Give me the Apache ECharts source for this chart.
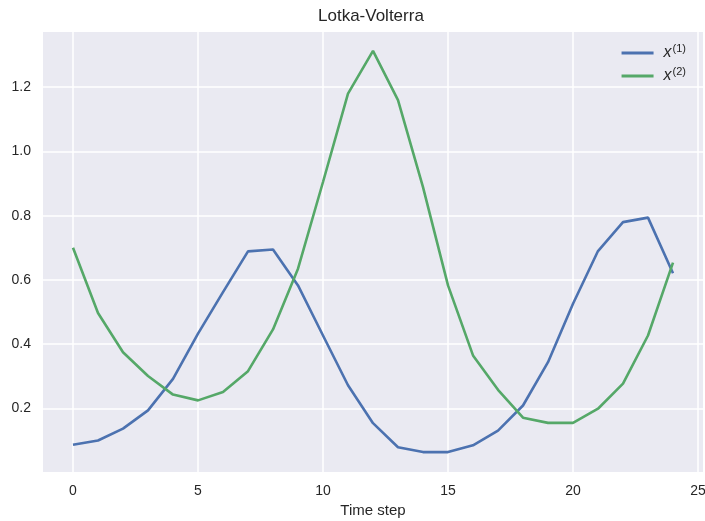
<!DOCTYPE html>
<html>
<head>
<meta charset="utf-8">
<script src="https://cdn.jsdelivr.net/npm/echarts@6/dist/echarts.min.js"></script>
<style>
  html, body { margin: 0; padding: 0; background: #fff; }
  #chart { width: 705px; height: 521px; }
</style>
</head>
<body>
<div id="chart"></div>
<script>
// time steps 0..24
var steps = [0,1,2,3,4,5,6,7,8,9,10,11,12,13,14,15,16,17,18,19,20,21,22,23,24];
var x1 = [0.087,0.100,0.137,0.194,0.292,0.433,0.562,0.689,0.695,0.583,0.427,0.272,0.154,
          0.079,0.064,0.064,0.085,0.131,0.209,0.344,0.526,0.690,0.780,0.794,0.621];
var x2 = [0.700,0.497,0.375,0.301,0.243,0.225,0.251,0.316,0.446,0.635,0.905,1.180,1.313,
          1.160,0.889,0.583,0.365,0.258,0.171,0.155,0.155,0.199,0.277,0.427,0.654];
var xTicks = [0,5,10,15,20,25];
var yTicks = [0.2,0.4,0.6,0.8,1.0,1.2];

var chart = echarts.init(document.getElementById('chart'));

function pairs(ys) {
    return steps.map(function (s, i) { return [s, ys[i]]; });
}

var font = 'Liberation Sans';

var option = {
    animation: false,
    textStyle: { fontFamily: font },
    title: {
        text: 'Lotka-Volterra',
        left: 313,
        top: 3,
        textStyle: { fontFamily: font, fontSize: 17, fontWeight: 'normal', color: '#262626' }
    },
    legend: {
        right: 14,
        top: 38,
        orient: 'vertical',
        itemWidth: 32,
        itemHeight: 3,
        itemGap: 5,
        icon: 'rect',
        textStyle: {
            fontFamily: font,
            color: '#262626',
            rich: {
                i: { fontStyle: 'italic', fontSize: 16, fontFamily: font, color: '#262626', padding: [0, 0, 0, 5] },
                s: { fontSize: 11, fontFamily: font, color: '#262626', verticalAlign: 'top', padding: [0, 0, 9, 1] }
            }
        },
        formatter: function (name) {
            return '{i|x}{s|' + name.replace('x', '') + '}';
        },
        data: ['x(1)', 'x(2)']
    },
    grid: {
        left: 43, right: 2, top: 32, bottom: 49,
        outerBoundsMode: 'none',
        show: true,
        backgroundColor: '#eaeaf2',
        borderWidth: 0
    },
    xAxis: {
        type: 'value',
        min: -1.2,
        max: 25.2,
        name: 'Time step',
        nameLocation: 'middle',
        nameGap: 30,
        nameTextStyle: { fontFamily: font, fontSize: 15, color: '#262626' },
        axisLine: { show: false },
        axisTick: { show: false, customValues: xTicks },
        axisLabel: { customValues: xTicks, fontFamily: font, fontSize: 14, color: '#262626', margin: 12 },
        splitLine: { show: true, lineStyle: { color: '#ffffff', width: 1.5 } }
    },
    yAxis: {
        type: 'value',
        min: 0.002,
        max: 1.372,
        axisLine: { show: false },
        axisTick: { show: false, customValues: yTicks },
        axisLabel: {
            customValues: yTicks, fontFamily: font, fontSize: 14, color: '#262626', margin: 12,
            formatter: function (v) { return v.toFixed(1); }
        },
        splitLine: { show: true, lineStyle: { color: '#ffffff', width: 1.5 } }
    },
    series: [
        {
            name: 'x(1)',
            type: 'line',
            data: pairs(x1),
            showSymbol: false,
            color: '#4c72b0',
            lineStyle: { width: 2.6, color: '#4c72b0' }
        },
        {
            name: 'x(2)',
            type: 'line',
            data: pairs(x2),
            showSymbol: false,
            color: '#55a868',
            lineStyle: { width: 2.6, color: '#55a868' }
        }
    ]
};

chart.setOption(option);
</script>
</body>
</html>
